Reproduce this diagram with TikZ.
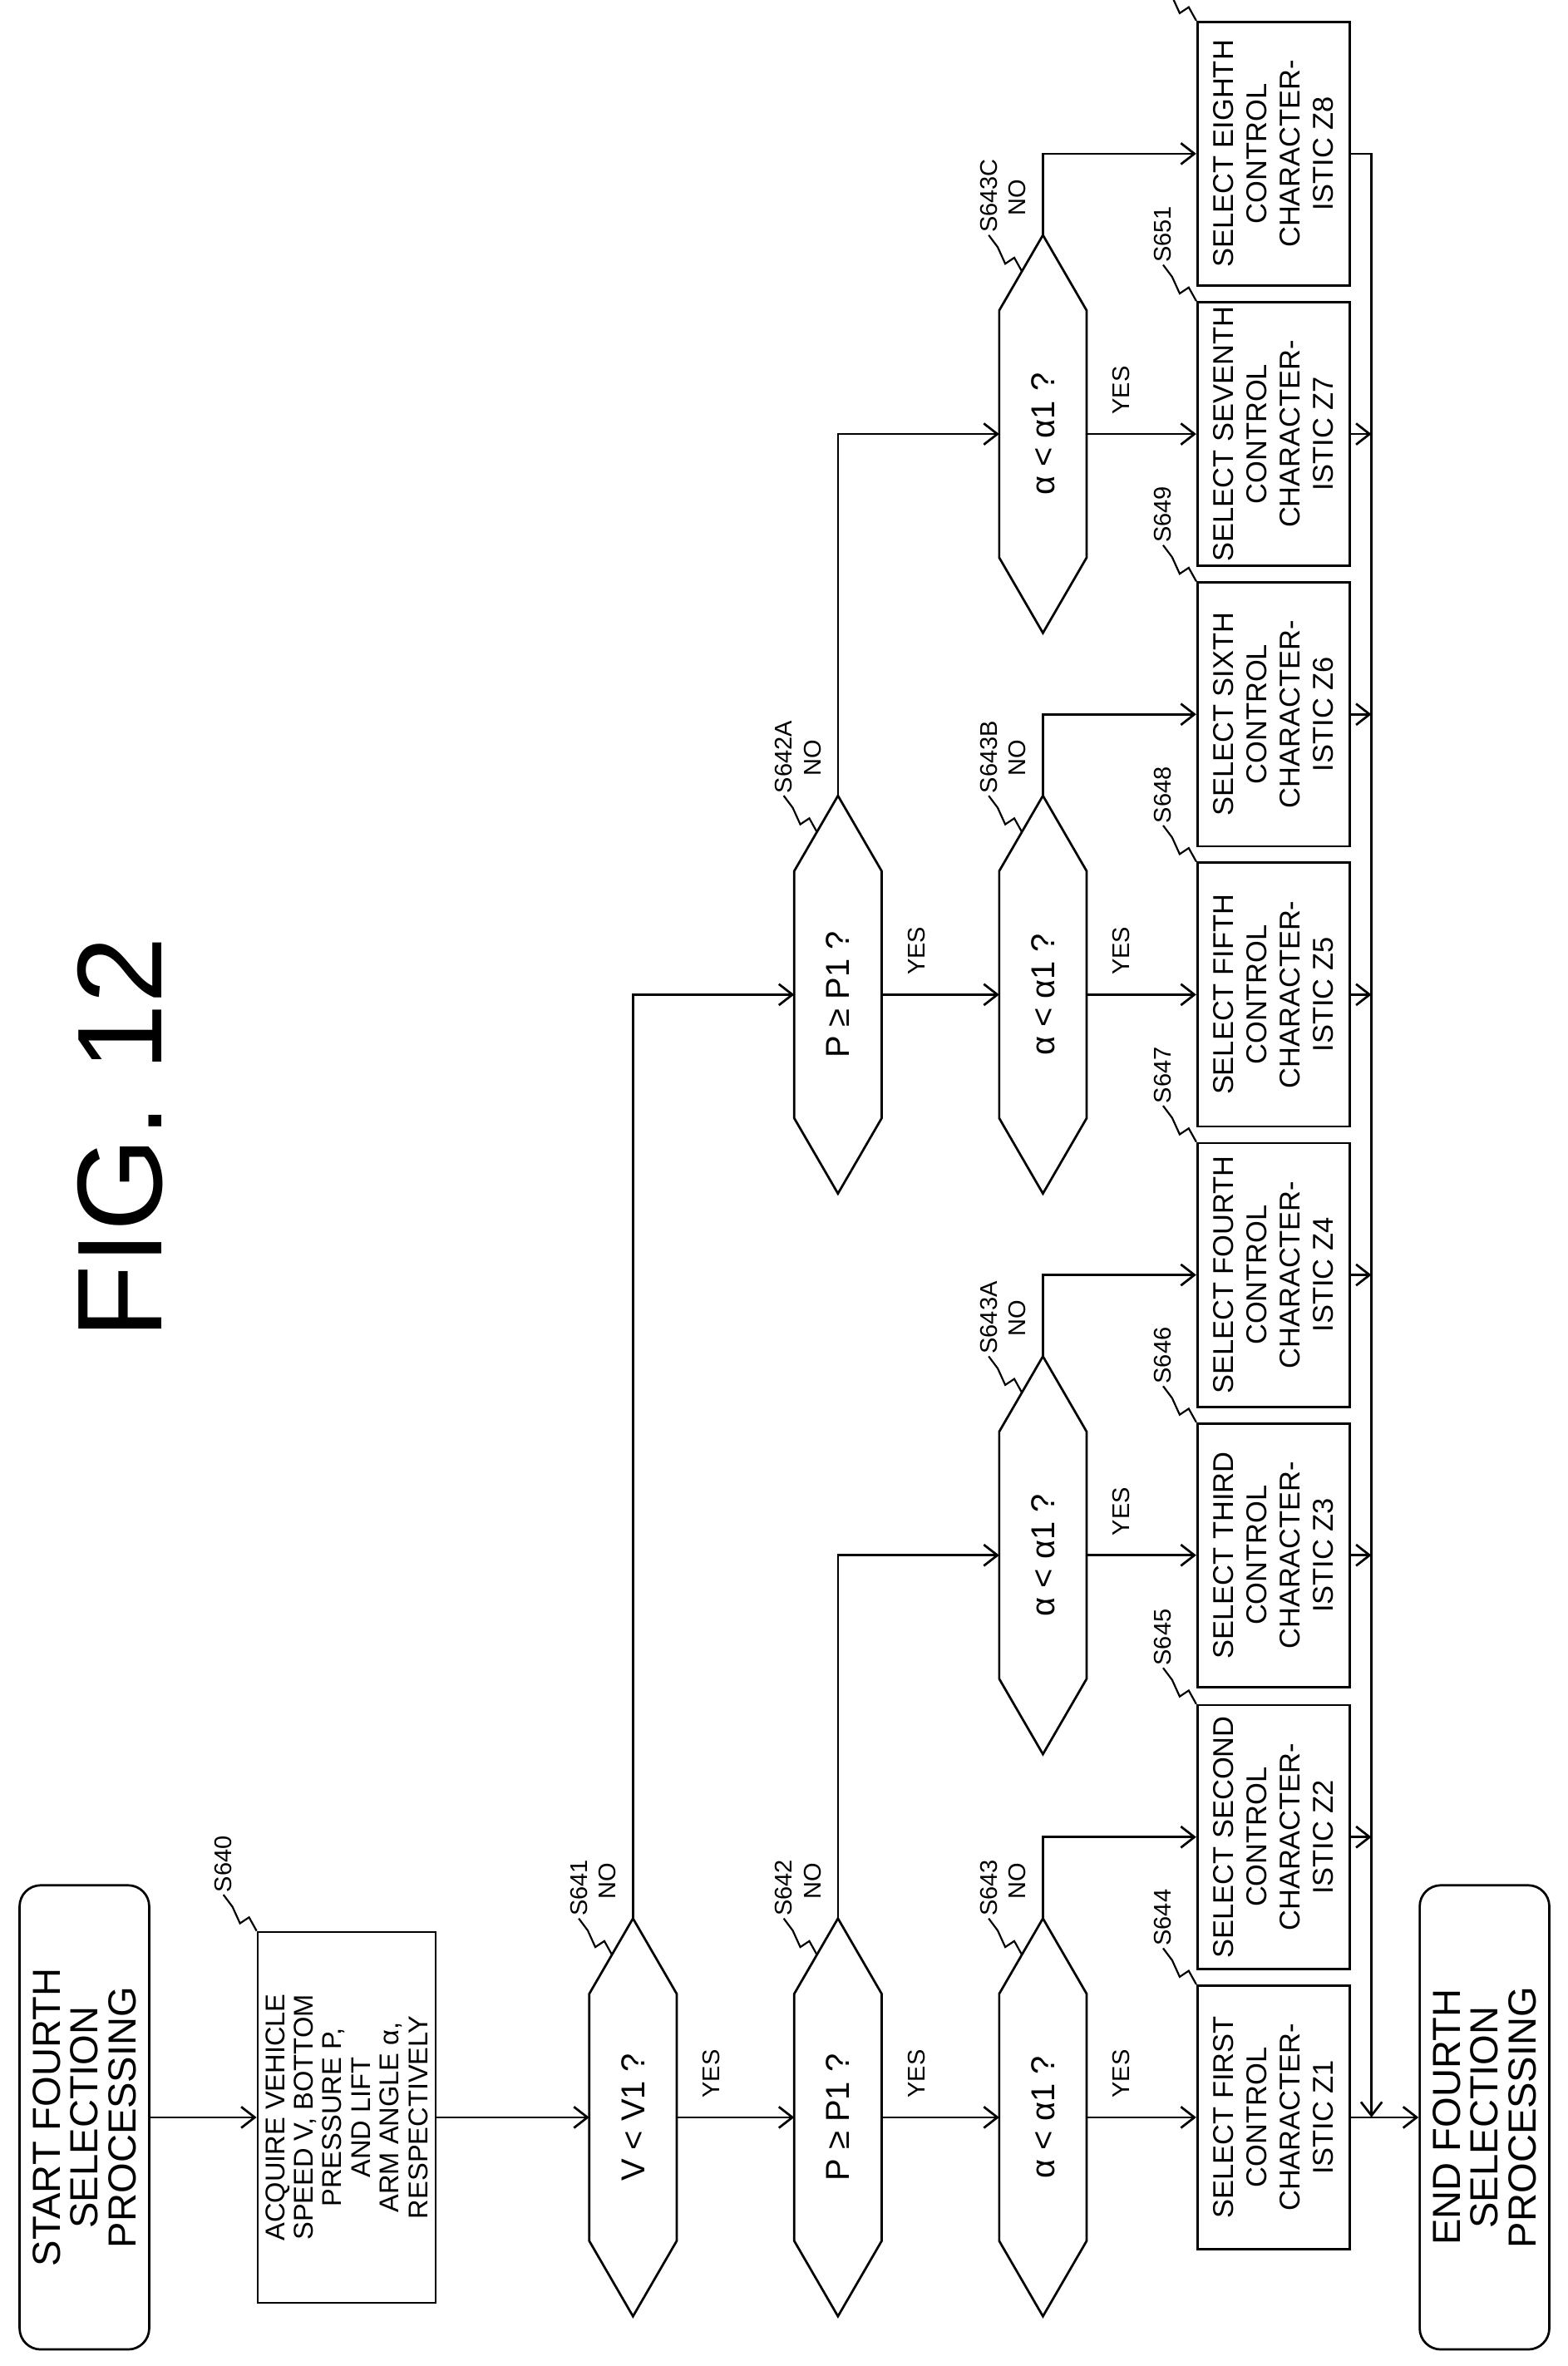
\documentclass[tikz,border=0pt]{standalone}
\usepackage{fontspec}
\setmainfont{Liberation Sans}
\usetikzlibrary{arrows.meta,calc}

\tikzset{
    line/.style = {line width=1.5pt},
    arr/.style = {line, -{Straight Barb[length=9pt,width=14pt]}},
    term/.style = {draw, line, rounded corners=14pt, rotate=90, align=center,
        minimum width=308pt, minimum height=86pt,
        font=\fontsize{26}{25}\selectfont},
    act/.style = {draw, line, rotate=90, align=center,
        minimum width=175pt, minimum height=101pt, inner sep=1pt,
        font=\fontsize{19}{22}\selectfont},
    dtext/.style = {rotate=90, font=\fontsize{22}{24}\selectfont},
    lbl/.style = {rotate=90, font=\fontsize{16}{18}\selectfont},
    steplbl/.style = {rotate=90, anchor=west, inner sep=1pt, font=\fontsize{16}{18}\selectfont}
}

% decision: name, x, y, text
\newcommand\decision[4]{%
    \node[dtext] (#1) at (#2,#3) {#4};
    \draw[line] (#2,#3-132) -- (#2+29,#3-82) -- (#2+29,#3+82) -- (#2,#3+132)
        -- (#2-29,#3+82) -- (#2-29,#3-82) -- cycle;
    \coordinate (#1-t) at (#2,#3-132);
    \coordinate (#1-l) at (#2-29,#3);
    \coordinate (#1-r) at (#2+29,#3);
    \node[lbl] at (#2-17,#3-157) {NO};
    \node[lbl] at (#2+52,#3-29) {YES};
}
% squiggly leader to a step label
\newcommand\leader[2]{%
    \draw[line, line width=1.2pt] #1 -- ++(-5,-9) -- ++(-6,4) -- ++(-5,-11) -- ++(-6,-8)
        node[steplbl] {#2};
}

\begin{document}
\begin{tikzpicture}[x=1pt, y=-1pt]
    \useasboundingbox (0,0) rectangle (1040,1570);

    \node[rotate=90, font=\fontsize{80}{80}\selectfont] (fig) at (80,755) {FIG. 12};

    \node[term] (start) at (56,1405) {START FOURTH\\SELECTION\\PROCESSING};
    \node[act, minimum width=246pt, minimum height=118pt, font=\fontsize{18}{19}\selectfont]
        (s640) at (230,1405) {ACQUIRE VEHICLE\\SPEED V, BOTTOM\\PRESSURE P,\\AND LIFT\\ARM ANGLE α,\\RESPECTIVELY};
    \node[term] (end) at (985,1405) {END FOURTH\\SELECTION\\PROCESSING};

    \decision{d641}{420}{1405}{V < V1 ?}
    \decision{d642}{556}{1405}{P ≥ P1 ?}
    \decision{d643}{692}{1405}{α < α1 ?}
    \decision{d642a}{556}{660}{P ≥ P1 ?}
    \decision{d643a}{692}{1032}{α < α1 ?}
    \decision{d643b}{692}{660}{α < α1 ?}
    \decision{d643c}{692}{288}{α < α1 ?}

    \node[act] (z1) at (845,1405) {SELECT FIRST\\CONTROL\\CHARACTER-\\ISTIC Z1};
    \node[act] (z2) at (845,1219) {SELECT SECOND\\CONTROL\\CHARACTER-\\ISTIC Z2};
    \node[act] (z3) at (845,1032) {SELECT THIRD\\CONTROL\\CHARACTER-\\ISTIC Z3};
    \node[act] (z4) at (845,846) {SELECT FOURTH\\CONTROL\\CHARACTER-\\ISTIC Z4};
    \node[act] (z5) at (845,660) {SELECT FIFTH\\CONTROL\\CHARACTER-\\ISTIC Z5};
    \node[act] (z6) at (845,474) {SELECT SIXTH\\CONTROL\\CHARACTER-\\ISTIC Z6};
    \node[act] (z7) at (845,288) {SELECT SEVENTH\\CONTROL\\CHARACTER-\\ISTIC Z7};
    \node[act] (z8) at (845,102) {SELECT EIGHTH\\CONTROL\\CHARACTER-\\ISTIC Z8};

    \coordinate (join) at (910,1405);

    % step labels
    \leader{(s640.north east)}{S640}
    \leader{($(d641-t)+(-14,24)$)}{S641}
    \leader{($(d642-t)+(-14,24)$)}{S642}
    \leader{($(d643-t)+(-14,24)$)}{S643}
    \leader{($(d642a-t)+(-14,24)$)}{S642A}
    \leader{($(d643a-t)+(-14,24)$)}{S643A}
    \leader{($(d643b-t)+(-14,24)$)}{S643B}
    \leader{($(d643c-t)+(-14,24)$)}{S643C}
    \leader{(z1.north east)}{S644}
    \leader{(z2.north east)}{S645}
    \leader{(z3.north east)}{S646}
    \leader{(z4.north east)}{S647}
    \leader{(z5.north east)}{S648}
    \leader{(z6.north east)}{S649}
    \leader{(z7.north east)}{S651}
    \leader{(z8.north east)}{S652}

    % main line
    \draw[arr] (start.south) -- (s640.north);
    \draw[arr] (s640.south) -- (d641-l);
    \draw[arr] (d641-r) -- (d642-l);
    \draw[arr] (d642-r) -- (d643-l);
    \draw[arr] (d643-r) -- (z1.north);
    \draw[arr] (z1.south) -- (end.north);

    % NO branches
    \draw[arr] (d641-t) |- (d642a-l);
    \draw[arr] (d642-t) |- (d643a-l);
    \draw[arr] (d643-t) |- (z2.north);
    \draw[arr] (d642a-t) |- (d643c-l);
    \draw[arr] (d643a-t) |- (z4.north);
    \draw[arr] (d643b-t) |- (z6.north);
    \draw[arr] (d643c-t) |- (z8.north);

    % YES branches
    \draw[arr] (d642a-r) -- (d643b-l);
    \draw[arr] (d643a-r) -- (z3.north);
    \draw[arr] (d643b-r) -- (z5.north);
    \draw[arr] (d643c-r) -- (z7.north);

    % back to the end
    \draw[arr] (z8.south) -| (join);
    \foreach \z in {z2,z3,z4,z5,z6,z7}
        \draw[arr] (\z.south) -- (\z.south -| join);
\end{tikzpicture}
\end{document}
